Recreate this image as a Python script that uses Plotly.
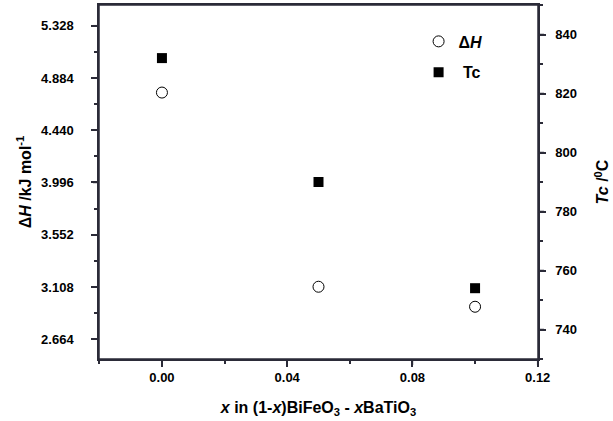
import plotly.graph_objects as go

x_vals = [0.00, 0.05, 0.10]
dH_vals = [4.76, 3.11, 2.94]
tc_vals = [832, 790, 754]

x_ticks = [0.00, 0.04, 0.08, 0.12]
dh_ticks = [2.664, 3.108, 3.552, 3.996, 4.440, 4.884, 5.328]
tc_ticks = [740, 760, 780, 800, 820, 840]

FONT = "Liberation Sans, Arial, sans-serif"
LINE = "#2b2b38"

W, H = 613, 421
M = dict(l=99, r=75, t=5, b=62)
PW = W - M["l"] - M["r"]
PH = H - M["t"] - M["b"]
X_RANGE = [-0.0201, 0.1201]
Y_RANGE = [2.496, 5.504]
Y2_RANGE = [730, 850]
TICKLEN = 6

fig = go.Figure()
fig.add_trace(go.Scatter(
    x=x_vals, y=dH_vals, mode="markers", name="<b>Δ<i>H</i></b>", legendgroup="a",
    marker=dict(symbol="circle-open", size=11, color="black", line=dict(width=1, color="black")),
    yaxis="y"))
fig.add_trace(go.Scatter(
    x=x_vals, y=tc_vals, mode="markers", name="<b>\u00a0Tc</b>", legendgroup="b",
    marker=dict(symbol="square", size=10, color="black"),
    yaxis="y2"))

tickfont = dict(family=FONT, size=13, color="black")
titlefont = dict(family=FONT, size=16, color="black")

def ax(vals, fmt, **kw):
    base = dict(showline=True, linecolor=LINE, linewidth=1.5,
                tickmode="array", tickvals=vals,
                ticktext=["<b>" + format(v, fmt) + "</b>" for v in vals],
                ticks="outside", ticklen=TICKLEN, tickwidth=1.5, tickcolor=LINE,
                showgrid=False, zeroline=False, tickfont=tickfont, automargin=False)
    base.update(kw)
    return base

def frac(v, rng):
    return (v - rng[0]) / (rng[1] - rng[0])

# frame and major tick marks, placed in paper units derived from the axis ranges
shapes = [dict(type="rect", xref="paper", yref="paper", x0=0, x1=1, y0=0, y1=1,
               line=dict(color=LINE, width=1.5), layer="above")]
tick_line = dict(color=LINE, width=1.5)
for v in x_ticks:
    p = frac(v, X_RANGE)
    shapes.append(dict(type="line", xref="paper", yref="paper", x0=p, x1=p,
                       y0=0, y1=-TICKLEN / PH, line=tick_line, layer="above"))
for v in dh_ticks:
    p = frac(v, Y_RANGE)
    shapes.append(dict(type="line", xref="paper", yref="paper", y0=p, y1=p,
                       x0=0, x1=-TICKLEN / PW, line=tick_line, layer="above"))
for v in tc_ticks:
    p = frac(v, Y2_RANGE)
    shapes.append(dict(type="line", xref="paper", yref="paper", y0=p, y1=p,
                       x0=1, x1=1 + TICKLEN / PW, line=tick_line, layer="above"))

fig.update_layout(
    width=W, height=H,
    margin=M,
    paper_bgcolor="white", plot_bgcolor="white",
    font=dict(family=FONT, color="black"),
    xaxis=ax(x_ticks, ".2f", range=X_RANGE, mirror=True,
             minor=dict(tickmode="linear", tick0=-0.02, dtick=0.04, ticks="outside", ticklen=3),
             title=dict(text="<b><i>x</i> in (1-<i>x</i>)BiFeO<sub>3</sub> - <i>x</i>BaTiO<sub>3</sub></b>",
                        font=titlefont, standoff=17)),
    yaxis=ax(dh_ticks, ".3f", range=Y_RANGE,
             minor=dict(tickmode="linear", tick0=2.442, dtick=0.444, ticks="outside", ticklen=3),
             ticklabelstandoff=15,
             title=dict(text="<b>Δ<i>H</i> /kJ mol<sup>-1</sup></b>", font=titlefont, standoff=6)),
    yaxis2=ax(tc_ticks, "d", range=Y2_RANGE, overlaying="y", side="right",
              minor=dict(tickmode="linear", tick0=730, dtick=20, ticks="outside", ticklen=3),
              ticklabelstandoff=7,
              title=dict(text="<b><i>Tc</i> /<sup>0</sup>C</b>", font=titlefont, standoff=21)),
    legend=dict(x=0.728, y=0.945, xanchor="left", yanchor="top", bgcolor="rgba(0,0,0,0)",
                font=dict(family=FONT, size=16, color="black"), borderwidth=0,
                tracegroupgap=7),
    shapes=shapes,
)

fig.write_html("out.html", config={"displayModeBar": False},
               post_script="document.body.style.margin='0';")
